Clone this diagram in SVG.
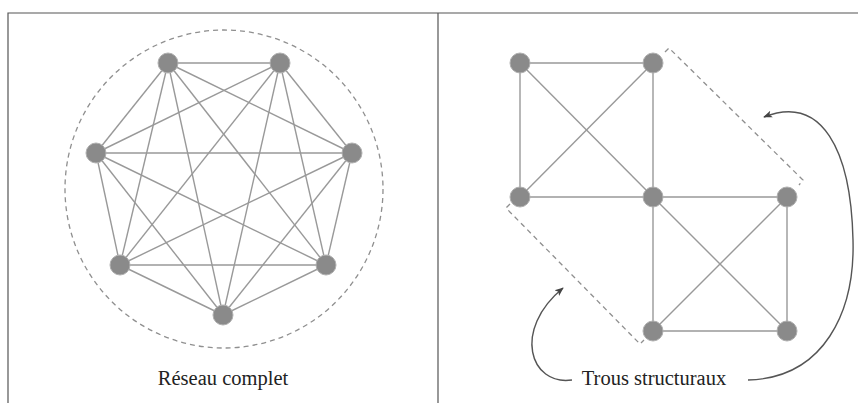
<svg xmlns="http://www.w3.org/2000/svg" width="858" height="403" viewBox="0 0 858 403">
<defs>
<style>
.frame{stroke:#555;stroke-width:1.2;fill:none}
.edge{stroke:#999;stroke-width:1.4;fill:none}
.dash{stroke:#8f8f8f;stroke-width:1.3;fill:none;stroke-dasharray:5 4}
.node{fill:#8a8a8a;stroke:#b0b0b0;stroke-width:1}
.curve{stroke:#555;stroke-width:1.4;fill:none}
.lbl{font-family:"Liberation Serif","Times New Roman",serif;font-size:20.5px;fill:#222;text-anchor:middle}
</style>
<marker id="ah" viewBox="0 0 10 10" refX="9" refY="5" markerWidth="9" markerHeight="9" markerUnits="userSpaceOnUse" orient="auto">
<path d="M0,1 L10,5 L0,9 L2.5,5 Z" fill="#444"/>
</marker>
</defs>
<rect width="858" height="403" fill="#fff"/>
<g id="frame">
<path class="frame" d="M8,403 V13 H858 M438,13 V403"/>
</g>
<g id="connectors">
<circle class="dash" cx="224" cy="189" r="159"/>
<g id="left-edges">
<line class="edge" x1="168" y1="63" x2="280" y2="63"/>
<line class="edge" x1="168" y1="63" x2="96" y2="153"/>
<line class="edge" x1="168" y1="63" x2="352" y2="153"/>
<line class="edge" x1="168" y1="63" x2="120" y2="265"/>
<line class="edge" x1="168" y1="63" x2="326" y2="265"/>
<line class="edge" x1="168" y1="63" x2="223" y2="315"/>
<line class="edge" x1="280" y1="63" x2="96" y2="153"/>
<line class="edge" x1="280" y1="63" x2="352" y2="153"/>
<line class="edge" x1="280" y1="63" x2="120" y2="265"/>
<line class="edge" x1="280" y1="63" x2="326" y2="265"/>
<line class="edge" x1="280" y1="63" x2="223" y2="315"/>
<line class="edge" x1="96" y1="153" x2="352" y2="153"/>
<line class="edge" x1="96" y1="153" x2="120" y2="265"/>
<line class="edge" x1="96" y1="153" x2="326" y2="265"/>
<line class="edge" x1="96" y1="153" x2="223" y2="315"/>
<line class="edge" x1="352" y1="153" x2="120" y2="265"/>
<line class="edge" x1="352" y1="153" x2="326" y2="265"/>
<line class="edge" x1="352" y1="153" x2="223" y2="315"/>
<line class="edge" x1="120" y1="265" x2="326" y2="265"/>
<line class="edge" x1="120" y1="265" x2="223" y2="315"/>
<line class="edge" x1="326" y1="265" x2="223" y2="315"/>
</g>
<g id="right-edges">
<line class="edge" x1="520" y1="63" x2="653" y2="63"/>
<line class="edge" x1="520" y1="63" x2="520" y2="197"/>
<line class="edge" x1="520" y1="63" x2="653" y2="197"/>
<line class="edge" x1="653" y1="63" x2="520" y2="197"/>
<line class="edge" x1="653" y1="63" x2="653" y2="197"/>
<line class="edge" x1="520" y1="197" x2="653" y2="197"/>
<line class="edge" x1="653" y1="197" x2="787" y2="197"/>
<line class="edge" x1="653" y1="197" x2="653" y2="331"/>
<line class="edge" x1="653" y1="197" x2="787" y2="331"/>
<line class="edge" x1="787" y1="197" x2="653" y2="331"/>
<line class="edge" x1="787" y1="197" x2="787" y2="331"/>
<line class="edge" x1="653" y1="331" x2="787" y2="331"/>
</g>
<polyline class="dash" points="665,52 669,48 803,180 799,185"/>
<polyline class="dash" points="510,204 506,208 640,344 644,340"/>
<path class="curve" marker-end="url(#ah)" d="M572,380 C530,386 512,330 563,288"/>
<path class="curve" marker-end="url(#ah)" d="M748,380 C824,378 855,312 853,240 C851,150 822,94 764,117"/>
</g>
<g id="n-l1"><circle class="node" cx="168" cy="63" r="10"/></g>
<g id="n-l2"><circle class="node" cx="280" cy="63" r="10"/></g>
<g id="n-l3"><circle class="node" cx="96" cy="153" r="10"/></g>
<g id="n-l4"><circle class="node" cx="352" cy="153" r="10"/></g>
<g id="n-l5"><circle class="node" cx="120" cy="265" r="10"/></g>
<g id="n-l6"><circle class="node" cx="326" cy="265" r="10"/></g>
<g id="n-l7"><circle class="node" cx="223" cy="315" r="10"/></g>
<g id="n-r1"><circle class="node" cx="520" cy="63" r="10"/></g>
<g id="n-r2"><circle class="node" cx="653" cy="63" r="10"/></g>
<g id="n-r3"><circle class="node" cx="520" cy="197" r="10"/></g>
<g id="n-r4"><circle class="node" cx="653" cy="197" r="10"/></g>
<g id="n-r5"><circle class="node" cx="787" cy="197" r="10"/></g>
<g id="n-r6"><circle class="node" cx="653" cy="331" r="10"/></g>
<g id="n-r7"><circle class="node" cx="787" cy="331" r="10"/></g>
<g id="labels">
<text class="lbl" x="223" y="385">Réseau complet</text>
<text class="lbl" x="654" y="385">Trous structuraux</text>
</g>
</svg>
